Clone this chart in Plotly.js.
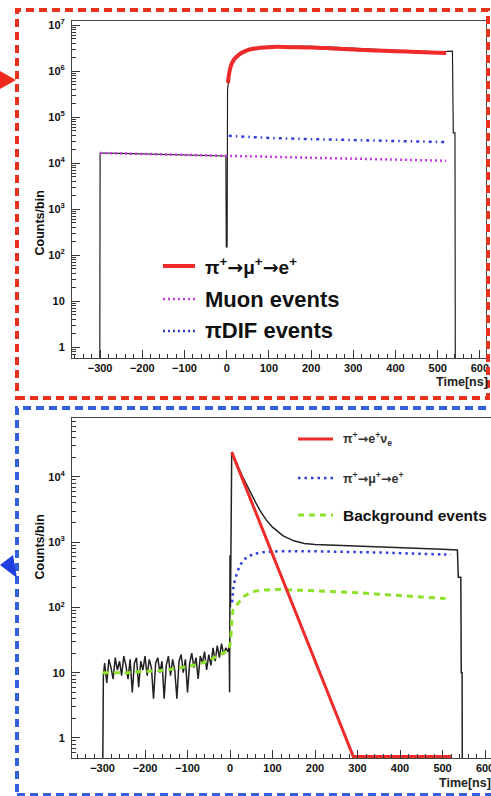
<!DOCTYPE html>
<html>
<head>
<meta charset="utf-8">
<script src="https://cdn.plot.ly/plotly-3.0.1.min.js"></script>
<style>html,body{margin:0;padding:0;background:#fff;}#chart{width:491px;height:796px;}</style>
</head>
<body>
<div id="chart"></div>
<script>
// ---------- TOP PANEL DATA ----------
const topTotalTime = [-301, -300, -250, -200, -150, -100, -50, -2, -1, 1, 2, 5, 10, 15, 20, 30, 45, 60, 80, 100, 120, 150, 200, 250, 300, 350, 400, 450, 500, 535, 537, 541, 542];
const topTotal     = [0.01, 16500, 16200, 15800, 15400, 15000, 14600, 14200, 150, 150, 400000, 700000, 1300000, 1700000, 2000000, 2400000, 2900000, 3150000, 3350000, 3450000, 3500000, 3500000, 3450000, 3300000, 3100000, 2950000, 2800000, 2700000, 2600000, 2700000, 45000, 45000, 0.01];

const topSignalTime = [3, 5, 8, 12, 16, 20, 25, 30, 40, 50, 60, 80, 100, 120, 150, 200, 250, 300, 350, 400, 450, 500, 520];
const topSignal     = [550000, 800000, 1100000, 1450000, 1700000, 1900000, 2100000, 2300000, 2600000, 2850000, 3000000, 3200000, 3300000, 3350000, 3300000, 3250000, 3100000, 2950000, 2800000, 2700000, 2600000, 2500000, 2450000];

const topMuonTime = [-300, -200, -100, -5, 5, 100, 200, 300, 400, 520];
const topMuon     = [16500, 15800, 15000, 14200, 14000, 13600, 13200, 12600, 12000, 11200];

const topDifTime = [5, 50, 100, 200, 300, 400, 520];
const topDif     = [39000, 37000, 35000, 33000, 31500, 30000, 28500];

// ---------- BOTTOM PANEL DATA ----------
const botTotalTime = [-301, -300, -298, -295, -290, -285, -280, -275, -270, -265, -260, -255, -250, -245, -240, -235, -230, -225, -220, -215, -210, -205, -200, -195, -190, -185, -180, -175, -170, -165, -160, -155, -150, -145, -140, -135, -130, -125, -120, -115, -110, -105, -100, -95, -90, -85, -80, -75, -70, -65, -60, -55, -50, -45, -40, -35, -30, -25, -20, -15, -10, -5, -2, -1, 0, 1, 4, 10, 20, 30, 47, 60, 70, 85, 100, 125, 150, 175, 200, 250, 300, 350, 400, 450, 500, 535, 537, 543, 544, 546, 547];
const botTotal     = [0.01, 2, 9, 14, 7, 16, 12, 8, 17, 11, 15, 9, 18, 13, 8, 16, 5, 14, 17, 6, 15, 11, 18, 9, 16, 12, 4, 14, 17, 10, 15, 4, 13, 18, 9, 16, 11, 4, 15, 19, 10, 16, 5, 14, 20, 12, 17, 8, 18, 14, 21, 11, 19, 13, 24, 15, 26, 17, 28, 19, 24, 21, 25, 5, 630, 100, 24000, 20000, 14000, 10000, 5900, 4100, 3100, 2200, 1700, 1250, 1050, 960, 925, 900, 890, 870, 840, 810, 780, 760, 290, 290, 10, 10, 0.01];

const botSignalTime = [4, 290, 522];
const botSignal     = [24000, 0.52, 0.52];

const botMuDecayTime = [5, 7, 10, 16, 23, 31, 42, 54, 75, 100, 150, 200, 250, 300, 350, 400, 450, 500, 520];
const botMuDecay     = [120, 180, 240, 330, 430, 520, 600, 650, 700, 720, 730, 725, 715, 705, 695, 680, 665, 650, 645];

const botBgTime = [-300, -250, -200, -150, -100, -75, -50, -30, -10, -3, 5, 8, 16, 25, 31, 45, 63, 100, 150, 200, 250, 300, 350, 400, 450, 500, 515];
const botBg     = [10, 10, 10.5, 11, 12.5, 13.5, 15.5, 18, 21, 23, 70, 95, 110, 130, 145, 165, 180, 188, 185, 180, 174, 168, 160, 152, 145, 138, 135];

// ---------- TEXT ----------
const ARW = '<span style="font-family:DejaVu Sans">→</span>';
const topYTickVals = [1, 10, 100, 1e3, 1e4, 1e5, 1e6, 1e7];
const topYTickText = ['1', '10', '10<sup>2</sup>', '10<sup>3</sup>', '10<sup>4</sup>', '10<sup>5</sup>', '10<sup>6</sup>', '10<sup>7</sup>'];
const botYTickVals = [1, 10, 100, 1e3, 1e4];
const botYTickText = ['1', '10', '10<sup>2</sup>', '10<sup>3</sup>', '10<sup>4</sup>'];
const topLegendLabels = ['π<sup>+</sup>' + ARW + 'μ<sup>+</sup>' + ARW + 'e<sup>+</sup>', 'Muon events', 'πDIF events'];
const botLegendLabels = ['π<sup>+</sup>' + ARW + 'e<sup>+</sup>ν<sub>e</sub>', 'π<sup>+</sup>' + ARW + 'μ<sup>+</sup>' + ARW + 'e<sup>+</sup>', 'Background events'];
const yTitle = 'Counts/bin';
const xTitle = 'Time[ns]';

// ---------- STYLE ----------
const W = 491, H = 796;
const px = x => x / W;
const py = y => 1 - y / H;
const FONT = 'Liberation Sans, Arial, Helvetica, sans-serif';
const RED = '#ee2a2a', BLUE = '#2f3fd8', MAG = '#c63de8', GREEN = '#8ee02a', BLK = '#222';

function minorVals(lo, hi) {
  const v = [];
  for (let d = lo; d <= hi; d++) for (let k = 2; k <= 9; k++) v.push(k * Math.pow(10, d));
  return v;
}

const traces = [
  {x: topTotalTime, y: topTotal, xaxis: 'x', yaxis: 'y', mode: 'lines', line: {color: BLK, width: 1.2}},
  {x: topMuonTime, y: topMuon, xaxis: 'x', yaxis: 'y', mode: 'lines', line: {color: MAG, width: 2.5, dash: '2px,3px'}},
  {x: topDifTime, y: topDif, xaxis: 'x', yaxis: 'y', mode: 'lines', line: {color: BLUE, width: 2.5, dash: '3px,4px,1.5px,4px'}},
  {x: topSignalTime, y: topSignal, xaxis: 'x', yaxis: 'y', mode: 'lines', line: {color: RED, width: 4, shape: 'spline'}},

  {x: botTotalTime, y: botTotal, xaxis: 'x2', yaxis: 'y2', mode: 'lines', line: {color: BLK, width: 1.5}},
  {x: botBgTime, y: botBg, xaxis: 'x2', yaxis: 'y2', mode: 'lines', line: {color: GREEN, width: 3, dash: '6px,5px', shape: 'spline'}},
  {x: botMuDecayTime, y: botMuDecay, xaxis: 'x2', yaxis: 'y2', mode: 'lines', line: {color: BLUE, width: 2.5, dash: '2.5px,4px', shape: 'spline'}},
  {x: botSignalTime, y: botSignal, xaxis: 'x2', yaxis: 'y2', mode: 'lines', line: {color: RED, width: 3}}
];

const tickFont = {family: FONT, size: 11, weight: 'bold', color: '#111'};
function xAxis(domain, range, anchor) {
  return {domain, range, anchor, type: 'linear', dtick: 100, tick0: 0, ticks: 'inside', ticklen: 8, tickwidth: 1, tickcolor: '#333',
    minor: {dtick: 20, ticks: 'inside', ticklen: 4, tickcolor: '#333'}, ticklabeloverflow: 'allow',
    showline: true, linecolor: '#444', linewidth: 1, mirror: true, showgrid: false, zeroline: false, tickfont: tickFont};
}
function yAxis(domain, range, anchor, vals, text, mirror) {
  return {domain, range, anchor, type: 'log', tickmode: 'array', tickvals: vals, ticktext: text, ticks: 'inside', ticklen: 8, tickwidth: 1, tickcolor: '#333',
    minor: {tickmode: 'array', tickvals: minorVals(-1, 7), ticks: 'inside', ticklen: 4, tickcolor: '#333'},
    showline: true, linecolor: '#444', linewidth: 1, mirror, showgrid: false, zeroline: false, tickfont: tickFont, ticklabelstandoff: 4};
}

const shapes = [];
const annotations = [];
// dashed frames
shapes.push({type: 'rect', xref: 'paper', yref: 'paper', x0: px(17), x1: px(488), y0: py(398), y1: py(10), line: {color: '#e8321e', width: 4, dash: '8px,5px'}});
shapes.push({type: 'rect', xref: 'paper', yref: 'paper', x0: px(17), x1: px(500), y0: py(795), y1: py(408), line: {color: '#3460e0', width: 4, dash: '8px,5px'}});
// arrows
shapes.push({type: 'path', xref: 'paper', yref: 'paper', path: `M ${px(0)} ${py(71)} L ${px(16)} ${py(80)} L ${px(0)} ${py(89)} Z`, fillcolor: '#ee2a1a', line: {width: 0}});
shapes.push({type: 'path', xref: 'paper', yref: 'paper', path: `M ${px(17)} ${py(578)} L ${px(13)} ${py(555)} L ${px(0)} ${py(565)} Z`, fillcolor: '#1f3fe0', line: {width: 0}});

// legend top
const topRows = [266, 299, 331];
const topStyles = [{color: RED, width: 4}, {color: MAG, width: 2.5, dash: '2px,3px'}, {color: BLUE, width: 2.5, dash: '2px,3px'}];
topRows.forEach((y, i) => {
  shapes.push({type: 'line', xref: 'paper', yref: 'paper', x0: px(163), x1: px(195), y0: py(y), y1: py(y), line: topStyles[i]});
  annotations.push({xref: 'paper', yref: 'paper', x: px(203), y: py(y), xanchor: 'left', yanchor: 'middle', showarrow: false, text: topLegendLabels[i],
    font: {family: FONT, size: i === 0 ? 19 : 22, weight: 'bold', color: '#111'}});
});
// legend bottom
const botRows = [439, 478, 515];
const botStyles = [{color: RED, width: 3}, {color: BLUE, width: 2.5, dash: '2.5px,4px'}, {color: GREEN, width: 3, dash: '6px,5px'}];
botRows.forEach((y, i) => {
  shapes.push({type: 'line', xref: 'paper', yref: 'paper', x0: px(298), x1: px(333), y0: py(y), y1: py(y), line: botStyles[i]});
  annotations.push({xref: 'paper', yref: 'paper', x: px(341), y: py(y), xanchor: 'left', yanchor: 'middle', showarrow: false, text: botLegendLabels[i],
    font: {family: FONT, size: i === 2 ? 15.5 : 12.5, weight: 'bold', color: i === 2 ? '#111' : '#333'}});
});
// axis titles
annotations.push({xref: 'paper', yref: 'paper', x: px(30), y: py(189), textangle: -90, showarrow: false, text: yTitle, font: {family: FONT, size: 12.5, weight: 'bold', color: '#111'}});
annotations.push({xref: 'paper', yref: 'paper', x: px(30), y: py(582), textangle: -90, showarrow: false, text: yTitle, font: {family: FONT, size: 12.5, weight: 'bold', color: '#111'}});
annotations.push({xref: 'paper', yref: 'paper', x: px(490), y: py(382), xanchor: 'right', yanchor: 'middle', showarrow: false, text: xTitle, font: {family: FONT, size: 12.5, weight: 'bold', color: '#222'}});
annotations.push({xref: 'paper', yref: 'paper', x: px(437), y: py(783), xanchor: 'left', yanchor: 'middle', showarrow: false, text: xTitle, font: {family: FONT, size: 12.5, weight: 'bold', color: '#222'}});

const layout = {
  width: W, height: H,
  margin: {l: 0, r: 0, t: 0, b: 0},
  paper_bgcolor: '#fff', plot_bgcolor: '#fff',
  showlegend: false,
  xaxis: xAxis([px(72), px(486)], [-366.6, 614.5], 'y'),
  yaxis: yAxis([py(358), py(21)], [-0.239, 7.087], 'x', topYTickVals, topYTickText, true),
  xaxis2: xAxis([px(72), 1], [-371.8, 614], 'y2'),
  yaxis2: yAxis([py(758), py(418)], [-0.307, 4.904], 'x2', botYTickVals, botYTickText, false),
  shapes, annotations
};

Plotly.newPlot('chart', traces, layout, {staticPlot: true, displayModeBar: false});
</script>
</body>
</html>
